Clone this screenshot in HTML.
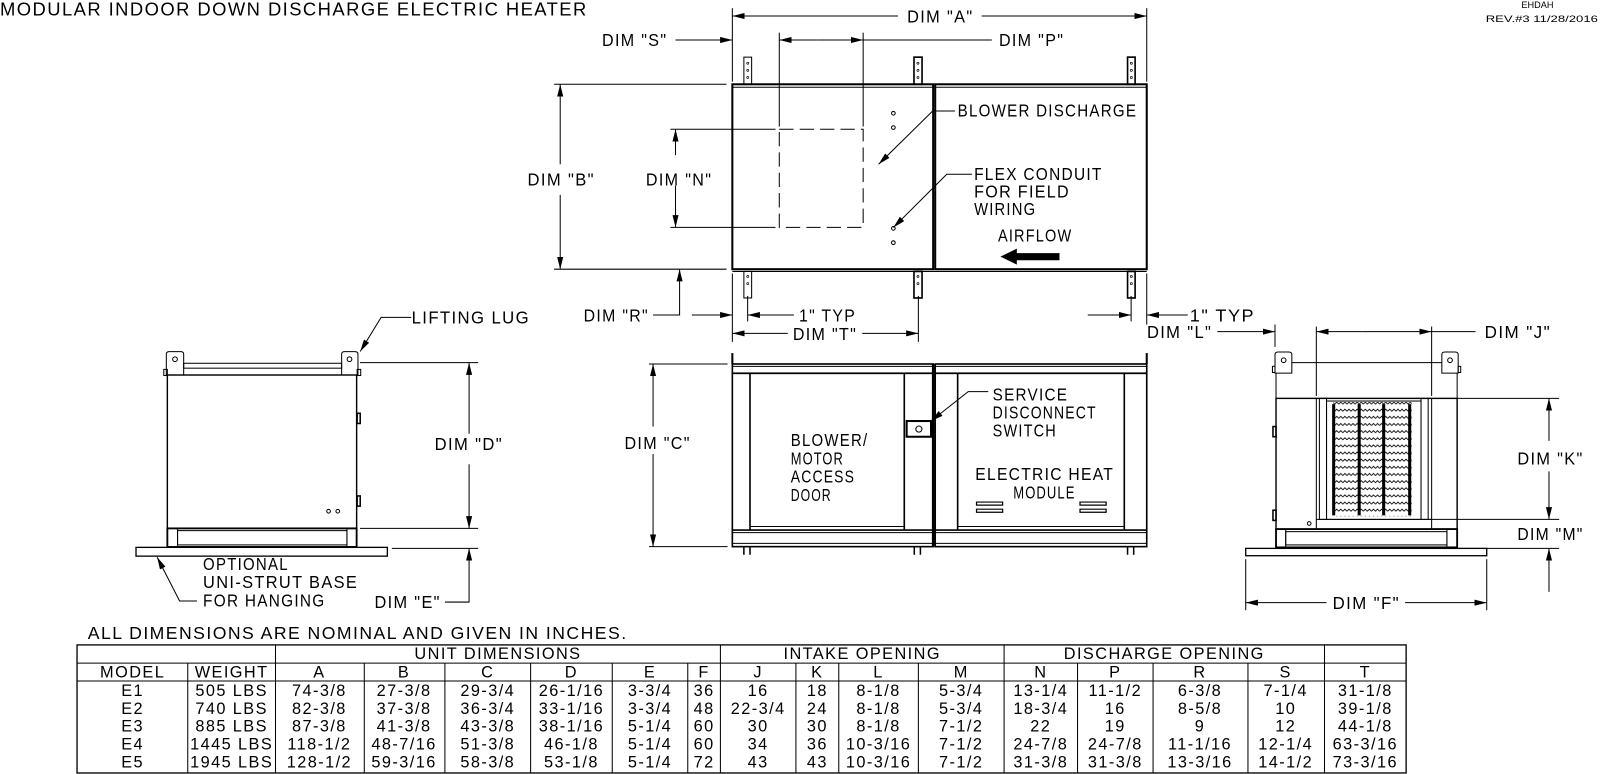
<!DOCTYPE html>
<html><head><meta charset="utf-8"><style>
html,body{margin:0;padding:0;background:#fff;}
svg{display:block;}
text{font-family:"Liberation Sans",sans-serif;fill:#000;}
.l{font-size:17px;letter-spacing:1.4px;}
.t{font-size:16px;letter-spacing:1.4px;text-anchor:middle;}
</style></head><body>
<svg width="1600" height="774" viewBox="0 0 1568 758.5" preserveAspectRatio="none" xmlns="http://www.w3.org/2000/svg">
<defs>
<marker id="a" viewBox="0 0 12 6" refX="12" refY="3" markerWidth="12" markerHeight="6" markerUnits="userSpaceOnUse" orient="auto-start-reverse"><path d="M0,0 L12,3 L0,6 z" fill="#000"/></marker>
<pattern id="zz" x="0" y="0" width="8" height="7" patternUnits="userSpaceOnUse"><path d="M0,4 L2,2 L4,4 L6,2 L8,4" fill="none" stroke="#000" stroke-width="0.8"/></pattern>
</defs>
<g fill="none" stroke="#000" stroke-width="1">

<!-- ===== TOP VIEW ===== -->
<rect x="717.7" y="82.6" width="196.8" height="181.2" stroke-width="2"/>
<rect x="916.5" y="82.6" width="207.3" height="181.2" stroke-width="2"/>
<line x1="717.7" y1="85.5" x2="1123.8" y2="85.5"/>
<line x1="717.7" y1="266" x2="1123.8" y2="266"/>
<!-- lugs -->
<rect x="729" y="56" width="7.6" height="26.6"/><rect x="895.7" y="56" width="7.9" height="26.6" stroke-width="1.6"/><rect x="1105" y="56" width="7.4" height="26.6" stroke-width="1.6"/>
<rect x="729" y="266" width="7.6" height="26"/><rect x="895.7" y="266" width="7.9" height="26" stroke-width="1.6"/><rect x="1105" y="266" width="7.4" height="26" stroke-width="1.6"/>
<g stroke-width="0.7"><circle cx="732.8" cy="62" r="1"/><circle cx="732.8" cy="69" r="1"/><circle cx="732.8" cy="76" r="1"/><circle cx="899.6" cy="62" r="1"/><circle cx="899.6" cy="69" r="1"/><circle cx="899.6" cy="76" r="1"/><circle cx="1108.7" cy="62" r="1"/><circle cx="1108.7" cy="69" r="1"/><circle cx="1108.7" cy="76" r="1"/>
<circle cx="732.8" cy="271" r="1"/><circle cx="732.8" cy="278" r="1"/><circle cx="899.6" cy="271" r="1"/><circle cx="899.6" cy="278" r="1"/><circle cx="1108.7" cy="271" r="1"/><circle cx="1108.7" cy="278" r="1"/></g>
<!-- dashed discharge -->
<rect x="763.7" y="126.7" width="82.2" height="96.1" stroke-dasharray="14,6"/>
<!-- holes -->
<circle cx="875.5" cy="111" r="1.8"/><circle cx="875.5" cy="125" r="1.8"/><circle cx="875.5" cy="223.8" r="1.8"/><circle cx="875.5" cy="237.8" r="1.8"/>
<!-- DIM A -->
<line x1="717.7" y1="8" x2="717.7" y2="80"/><line x1="1123.8" y1="8" x2="1123.8" y2="80"/>
<line x1="717.7" y1="15.7" x2="880" y2="15.7" marker-start="url(#a)"/><line x1="962" y1="15.7" x2="1123.8" y2="15.7" marker-end="url(#a)"/>
<!-- DIM P / S -->
<line x1="763.7" y1="32" x2="763.7" y2="124"/><line x1="845.9" y1="32" x2="845.9" y2="124"/>
<line x1="763.7" y1="39.2" x2="800" y2="39.2" marker-start="url(#a)"/><line x1="800" y1="39.2" x2="845.9" y2="39.2" marker-end="url(#a)"/><line x1="845.9" y1="39.2" x2="972" y2="39.2"/>
<line x1="662" y1="39.2" x2="717.7" y2="39.2" marker-end="url(#a)"/>
<!-- DIM B -->
<line x1="543" y1="82.6" x2="712" y2="82.6"/><line x1="543" y1="263.8" x2="712" y2="263.8"/>
<line x1="549" y1="82.6" x2="549" y2="161" marker-start="url(#a)"/><line x1="549" y1="191" x2="549" y2="263.8" marker-end="url(#a)"/>
<!-- DIM N -->
<line x1="657" y1="126.7" x2="760" y2="126.7"/><line x1="657" y1="222.8" x2="760" y2="222.8"/>
<line x1="662" y1="126.7" x2="662" y2="152" marker-start="url(#a)"/><line x1="662" y1="182" x2="662" y2="222.8" marker-end="url(#a)"/>
<!-- DIM R -->
<polyline points="640,308.7 666,308.7 666,263.8" marker-end="url(#a)"/>
<line x1="678" y1="308.7" x2="717.7" y2="308.7" marker-end="url(#a)"/>
<!-- 1" TYP left -->
<line x1="717.7" y1="268" x2="717.7" y2="335"/><line x1="732.7" y1="290" x2="732.7" y2="315"/><line x1="900" y1="290" x2="900" y2="335"/>
<line x1="732.7" y1="308.7" x2="778" y2="308.7" marker-start="url(#a)"/>
<line x1="717.7" y1="326.7" x2="772" y2="326.7" marker-start="url(#a)"/><line x1="845" y1="326.7" x2="900" y2="326.7" marker-end="url(#a)"/>
<!-- 1" TYP right / DIM L -->
<line x1="1108.5" y1="290" x2="1108.5" y2="315"/><line x1="1123.8" y1="268" x2="1123.8" y2="318"/>
<line x1="1066" y1="308.7" x2="1108.5" y2="308.7" marker-end="url(#a)"/>
<line x1="1123.8" y1="308.7" x2="1164" y2="308.7" marker-start="url(#a)"/>
<line x1="1193" y1="325" x2="1249.5" y2="325" marker-end="url(#a)"/><line x1="1249.5" y1="318" x2="1249.5" y2="340"/>
<!-- leaders top -->
<polyline points="936,108.8 914,108.8 861,161" marker-end="url(#a)"/>
<polyline points="952.5,170.8 927.8,170.8 875.5,223" marker-end="url(#a)"/>

<!-- ===== FRONT VIEW ===== -->
<line x1="717.7" y1="346" x2="717.7" y2="356.7" stroke-width="2"/><line x1="1123.8" y1="346" x2="1123.8" y2="356.7" stroke-width="2"/>
<rect x="717.7" y="356.7" width="196.8" height="9.1" stroke-width="1.6"/><rect x="916.5" y="356.7" width="207.3" height="9.1" stroke-width="1.6"/>
<line x1="717.7" y1="359" x2="1123.8" y2="359"/>
<rect x="717.7" y="365.8" width="196.8" height="169.9" stroke-width="1.6"/>
<rect x="916.5" y="365.8" width="207.3" height="169.9" stroke-width="1.6"/>
<line x1="914.5" y1="356.7" x2="914.5" y2="535.7" stroke-width="2.5"/>
<line x1="735" y1="365.8" x2="735" y2="519.4" stroke-width="1.6"/><line x1="886.2" y1="365.8" x2="886.2" y2="519.4" stroke-width="1.6"/>
<line x1="938.5" y1="365.8" x2="938.5" y2="519.4" stroke-width="1.6"/><line x1="1101.8" y1="365.8" x2="1101.8" y2="519.4" stroke-width="1.6"/>
<line x1="735" y1="516" x2="886.2" y2="516"/><line x1="938.5" y1="516" x2="1101.8" y2="516"/>
<line x1="717.7" y1="519.4" x2="1123.8" y2="519.4" stroke-width="1.6"/><line x1="717.7" y1="522" x2="1123.8" y2="522"/>
<line x1="717.7" y1="532.5" x2="1123.8" y2="532.5"/>
<path d="M729,535.7 v8 M735,535.7 v8 M896,535.7 v8 M902,535.7 v8 M1105,535.7 v8 M1111,535.7 v8" stroke-width="1.5"/>
<rect x="888.5" y="412.6" width="23.9" height="15.4" stroke-width="2"/><circle cx="900.5" cy="420.5" r="3"/>
<path d="M957,492 h25.6 v3 h-25.6 z M957,499 h25.6 v3 h-25.6 z M1058.4,492 h25.6 v3 h-25.6 z M1058.4,499 h25.6 v3 h-25.6 z" stroke-width="1.2"/>
<polyline points="968.5,383.8 948.9,383.8 912.4,412.6" marker-end="url(#a)"/>
<!-- DIM C -->
<line x1="636" y1="356.7" x2="713" y2="356.7"/><line x1="636" y1="535.7" x2="713" y2="535.7"/>
<line x1="640" y1="356.7" x2="640" y2="418" marker-start="url(#a)"/><line x1="640" y1="445" x2="640" y2="535.7" marker-end="url(#a)"/>

<!-- ===== LEFT VIEW ===== -->
<path d="M163,367.5 V347 q0,-2.4 3,-2.4 h11 q3,0 3,2.4 V367.5 z"/><circle cx="171.5" cy="352" r="2.3"/>
<path d="M334.8,367.5 V347 q0,-2.4 3,-2.4 h10 q3,0 3,2.4 V367.5 z"/><circle cx="342.5" cy="352" r="2.3"/>
<rect x="180" y="356" width="154.8" height="4.8"/>
<rect x="164" y="367.5" width="185.5" height="150.3" stroke-width="1.4"/>
<rect x="160.5" y="362" width="3.5" height="6"/><rect x="350" y="362" width="3.5" height="6"/>
<rect x="350" y="405" width="3" height="10" stroke-width="1.5"/><rect x="350" y="486" width="3" height="10" stroke-width="1.5"/>
<circle cx="322" cy="501" r="1.8"/><circle cx="331" cy="501" r="1.8"/>
<rect x="164" y="517.8" width="185.5" height="18.2" stroke-width="1.8"/>
<line x1="174" y1="517.8" x2="174" y2="536"/><line x1="340" y1="517.8" x2="340" y2="536"/>
<rect x="174" y="520" width="166" height="14"/>
<rect x="133.3" y="536.4" width="246.3" height="8.6" stroke-width="1.3"/>
<!-- DIM D/E -->
<line x1="352.8" y1="355.4" x2="468.6" y2="355.4"/><line x1="352.8" y1="517.8" x2="468.6" y2="517.8"/><line x1="384" y1="537.4" x2="468.6" y2="537.4"/>
<line x1="459.7" y1="355.4" x2="459.7" y2="425" marker-start="url(#a)"/><line x1="459.7" y1="455" x2="459.7" y2="517.8" marker-end="url(#a)"/>
<polyline points="436,590 459.7,590 459.7,537.4" marker-end="url(#a)"/>
<polyline points="403,311 373.5,311 353,344.5" marker-end="url(#a)"/>
<polyline points="193,589 176,589 154,546" marker-end="url(#a)"/>

<!-- ===== RIGHT VIEW ===== -->
<path d="M1249.5,365.7 V347.5 q0,-2.5 3,-2.5 h10.5 q3,0 3,2.5 V365.7 z"/><circle cx="1258" cy="353" r="2.3"/>
<path d="M1413,365.7 V347.5 q0,-2.5 3,-2.5 h10 q3,0 3,2.5 V365.7 z"/><circle cx="1421" cy="353" r="2.3"/>
<line x1="1266" y1="355.4" x2="1413" y2="355.4"/>
<rect x="1247" y="359" width="2.5" height="6"/><rect x="1429" y="359" width="2.5" height="6"/>
<line x1="1250.5" y1="365.7" x2="1250.5" y2="390.4"/><line x1="1428" y1="365.7" x2="1428" y2="390.4"/>
<rect x="1250.5" y="390.4" width="177.5" height="128.1" stroke-width="1.4"/>
<line x1="1290" y1="390.4" x2="1290" y2="518.5"/><line x1="1403" y1="390.4" x2="1403" y2="518.5"/>
<rect x="1293" y="390.4" width="7" height="118.6"/><rect x="1392.6" y="390.4" width="7" height="118.6"/>
<rect x="1300" y="393" width="92.6" height="116" />
<line x1="1290" y1="509" x2="1403" y2="509"/>
<rect x="1306.5" y="394" width="77" height="112" fill="url(#zz)" stroke="none"/>
<path d="M1307,396 v109 M1332,396 v109 M1356,396 v109 M1381.5,396 v109" stroke-width="3"/>
<rect x="1247.5" y="418" width="3" height="10" stroke-width="1.5"/><rect x="1247.5" y="500" width="3" height="10" stroke-width="1.5"/>
<circle cx="1283" cy="513" r="1.8"/>
<rect x="1250.5" y="518.5" width="177.5" height="17.9" stroke-width="1.8"/>
<line x1="1260" y1="518.5" x2="1260" y2="536.4"/><line x1="1418" y1="518.5" x2="1418" y2="536.4"/>
<rect x="1260" y="521" width="158" height="13"/>
<rect x="1220.8" y="537.4" width="236.2" height="7.2" stroke-width="1.3"/>
<!-- DIM J -->
<line x1="1290" y1="320" x2="1290" y2="388"/><line x1="1403" y1="320" x2="1403" y2="388"/>
<line x1="1290" y1="325" x2="1335" y2="325" marker-start="url(#a)"/><line x1="1335" y1="325" x2="1403" y2="325" marker-end="url(#a)"/><line x1="1403" y1="325" x2="1446" y2="325"/>
<!-- DIM K / M -->
<line x1="1428" y1="390.4" x2="1528" y2="390.4"/><line x1="1400" y1="509" x2="1528" y2="509"/><line x1="1457" y1="537.4" x2="1528" y2="537.4"/>
<line x1="1518" y1="390.4" x2="1518" y2="432" marker-start="url(#a)"/><line x1="1518" y1="462" x2="1518" y2="509" marker-end="url(#a)"/>
<line x1="1518" y1="537.4" x2="1518" y2="580" marker-start="url(#a)"/>
<!-- DIM F -->
<line x1="1220.8" y1="548" x2="1220.8" y2="598"/><line x1="1457" y1="548" x2="1457" y2="598"/>
<line x1="1220.8" y1="590.6" x2="1300" y2="590.6" marker-start="url(#a)"/><line x1="1377" y1="590.6" x2="1457" y2="590.6" marker-end="url(#a)"/>

<!-- airflow arrow -->
<path d="M981.6,251.5 L996,244.5 L996,248.5 L1037.8,248.5 L1037.8,254.5 L996,254.5 L996,258.5 z" fill="#000"/>

<!-- ===== TABLE ===== -->
<rect x="75.5" y="632" width="1302.5" height="125.5" stroke-width="1.3"/>
<line x1="75.5" y1="649.8" x2="1378" y2="649.8"/><line x1="75.5" y1="667.4" x2="1378" y2="667.4"/>
<path d="M270,632 V757.5 M706,632 V757.5 M984,632 V757.5 M1298,632 V757.5"/>
<path d="M184,649.8 V757.5 M357,649.8 V757.5 M436,649.8 V757.5 M520,649.8 V757.5 M600,649.8 V757.5 M674,649.8 V757.5 M780,649.8 V757.5 M822,649.8 V757.5 M900,649.8 V757.5 M1056,649.8 V757.5 M1130,649.8 V757.5 M1223,649.8 V757.5"/>
</g>

<!-- ===== TEXT ===== -->
<text x="0" y="15" class="l" textLength="576" lengthAdjust="spacingAndGlyphs" style="font-size:18px">MODULAR INDOOR DOWN DISCHARGE ELECTRIC HEATER</text>
<text x="1491" y="8" style="font-size:9px">EHDAH</text>
<text x="1456" y="21.5" style="font-size:9px" textLength="110" lengthAdjust="spacingAndGlyphs">REV.#3  11/28/2016</text>

<text x="889" y="22.2" class="l" textLength="65" lengthAdjust="spacingAndGlyphs">DIM "A"</text>
<text x="979" y="45" class="l" textLength="64" lengthAdjust="spacingAndGlyphs">DIM "P"</text>
<text x="590" y="45" class="l" textLength="64" lengthAdjust="spacingAndGlyphs">DIM "S"</text>
<text x="517" y="182" class="l" textLength="66" lengthAdjust="spacingAndGlyphs">DIM "B"</text>
<text x="633" y="182" class="l" textLength="65" lengthAdjust="spacingAndGlyphs">DIM "N"</text>
<text x="572" y="315" class="l" textLength="64" lengthAdjust="spacingAndGlyphs">DIM "R"</text>
<text x="783" y="315" class="l" textLength="56" lengthAdjust="spacingAndGlyphs">1" TYP</text>
<text x="777" y="333" class="l" textLength="63" lengthAdjust="spacingAndGlyphs">DIM "T"</text>
<text x="1166" y="315" class="l" textLength="64" lengthAdjust="spacingAndGlyphs">1" TYP</text>
<text x="1124" y="331" class="l" textLength="64" lengthAdjust="spacingAndGlyphs">DIM "L"</text>
<text x="1455" y="331" class="l" textLength="65" lengthAdjust="spacingAndGlyphs">DIM "J"</text>
<text x="938.5" y="114.3" class="l" textLength="176" lengthAdjust="spacingAndGlyphs">BLOWER DISCHARGE</text>
<text x="954.6" y="176.4" class="l" textLength="126" lengthAdjust="spacingAndGlyphs">FLEX CONDUIT</text>
<text x="954.6" y="193.4" class="l" textLength="94" lengthAdjust="spacingAndGlyphs">FOR FIELD</text>
<text x="954.6" y="210.7" class="l" textLength="61" lengthAdjust="spacingAndGlyphs">WIRING</text>
<text x="978" y="236.8" class="l" textLength="73" lengthAdjust="spacingAndGlyphs">AIRFLOW</text>

<text x="775" y="437" class="l" textLength="76" lengthAdjust="spacingAndGlyphs">BLOWER/</text>
<text x="775" y="455" class="l" textLength="52" lengthAdjust="spacingAndGlyphs">MOTOR</text>
<text x="775" y="473" class="l" textLength="63" lengthAdjust="spacingAndGlyphs">ACCESS</text>
<text x="775" y="491" class="l" textLength="40" lengthAdjust="spacingAndGlyphs">DOOR</text>
<text x="972.8" y="392.6" class="l" textLength="74" lengthAdjust="spacingAndGlyphs">SERVICE</text>
<text x="972.8" y="410" class="l" textLength="102" lengthAdjust="spacingAndGlyphs">DISCONNECT</text>
<text x="972.8" y="428" class="l" textLength="63" lengthAdjust="spacingAndGlyphs">SWITCH</text>
<text x="955.8" y="470.4" class="l" textLength="136" lengthAdjust="spacingAndGlyphs">ELECTRIC HEAT</text>
<text x="993" y="488.4" class="l" textLength="61" lengthAdjust="spacingAndGlyphs">MODULE</text>
<text x="612" y="440" class="l" textLength="65" lengthAdjust="spacingAndGlyphs">DIM "C"</text>

<text x="403.4" y="316.9" class="l" textLength="116" lengthAdjust="spacingAndGlyphs">LIFTING LUG</text>
<text x="426" y="441" class="l" textLength="67" lengthAdjust="spacingAndGlyphs">DIM "D"</text>
<text x="367" y="596" class="l" textLength="65" lengthAdjust="spacingAndGlyphs">DIM "E"</text>
<text x="199" y="558.6" class="l" textLength="84" lengthAdjust="spacingAndGlyphs">OPTIONAL</text>
<text x="199" y="576" class="l" textLength="152" lengthAdjust="spacingAndGlyphs">UNI-STRUT BASE</text>
<text x="199" y="594.5" class="l" textLength="120" lengthAdjust="spacingAndGlyphs">FOR HANGING</text>

<text x="1487" y="455" class="l" textLength="65" lengthAdjust="spacingAndGlyphs">DIM "K"</text>
<text x="1487" y="529" class="l" textLength="65" lengthAdjust="spacingAndGlyphs">DIM "M"</text>
<text x="1306" y="597" class="l" textLength="66" lengthAdjust="spacingAndGlyphs">DIM "F"</text>

<text x="86" y="626" class="l" textLength="529" lengthAdjust="spacingAndGlyphs">ALL DIMENSIONS ARE NOMINAL AND GIVEN IN INCHES.</text>

<text x="488" y="646" class="t">UNIT DIMENSIONS</text>
<text x="845" y="646" class="t">INTAKE OPENING</text>
<text x="1141" y="646" class="t">DISCHARGE OPENING</text>
<text x="130" y="664" class="t">MODEL</text><text x="227" y="664" class="t">WEIGHT</text>
<text x="313" y="664" class="t">A</text><text x="396" y="664" class="t">B</text><text x="478" y="664" class="t">C</text><text x="560" y="664" class="t">D</text><text x="637" y="664" class="t">E</text><text x="690" y="664" class="t">F</text>
<text x="743" y="664" class="t">J</text><text x="801" y="664" class="t">K</text><text x="861" y="664" class="t">L</text><text x="942" y="664" class="t">M</text>
<text x="1020" y="664" class="t">N</text><text x="1093" y="664" class="t">P</text><text x="1176" y="664" class="t">R</text><text x="1260" y="664" class="t">S</text><text x="1338" y="664" class="t">T</text>
<text x="130" y="682" class="t">E1</text><text x="227" y="682" class="t">505 LBS</text><text x="313" y="682" class="t">74-3/8</text><text x="396" y="682" class="t">27-3/8</text><text x="478" y="682" class="t">29-3/4</text><text x="560" y="682" class="t">26-1/16</text><text x="637" y="682" class="t">3-3/4</text><text x="690" y="682" class="t">36</text><text x="743" y="682" class="t">16</text><text x="801" y="682" class="t">18</text><text x="861" y="682" class="t">8-1/8</text><text x="942" y="682" class="t">5-3/4</text><text x="1020" y="682" class="t">13-1/4</text><text x="1093" y="682" class="t">11-1/2</text><text x="1176" y="682" class="t">6-3/8</text><text x="1260" y="682" class="t">7-1/4</text><text x="1338" y="682" class="t">31-1/8</text>
<text x="130" y="699.5" class="t">E2</text><text x="227" y="699.5" class="t">740 LBS</text><text x="313" y="699.5" class="t">82-3/8</text><text x="396" y="699.5" class="t">37-3/8</text><text x="478" y="699.5" class="t">36-3/4</text><text x="560" y="699.5" class="t">33-1/16</text><text x="637" y="699.5" class="t">3-3/4</text><text x="690" y="699.5" class="t">48</text><text x="743" y="699.5" class="t">22-3/4</text><text x="801" y="699.5" class="t">24</text><text x="861" y="699.5" class="t">8-1/8</text><text x="942" y="699.5" class="t">5-3/4</text><text x="1020" y="699.5" class="t">18-3/4</text><text x="1093" y="699.5" class="t">16</text><text x="1176" y="699.5" class="t">8-5/8</text><text x="1260" y="699.5" class="t">10</text><text x="1338" y="699.5" class="t">39-1/8</text>
<text x="130" y="717" class="t">E3</text><text x="227" y="717" class="t">885 LBS</text><text x="313" y="717" class="t">87-3/8</text><text x="396" y="717" class="t">41-3/8</text><text x="478" y="717" class="t">43-3/8</text><text x="560" y="717" class="t">38-1/16</text><text x="637" y="717" class="t">5-1/4</text><text x="690" y="717" class="t">60</text><text x="743" y="717" class="t">30</text><text x="801" y="717" class="t">30</text><text x="861" y="717" class="t">8-1/8</text><text x="942" y="717" class="t">7-1/2</text><text x="1020" y="717" class="t">22</text><text x="1093" y="717" class="t">19</text><text x="1176" y="717" class="t">9</text><text x="1260" y="717" class="t">12</text><text x="1338" y="717" class="t">44-1/8</text>
<text x="130" y="734.5" class="t">E4</text><text x="227" y="734.5" class="t">1445 LBS</text><text x="313" y="734.5" class="t">118-1/2</text><text x="396" y="734.5" class="t">48-7/16</text><text x="478" y="734.5" class="t">51-3/8</text><text x="560" y="734.5" class="t">46-1/8</text><text x="637" y="734.5" class="t">5-1/4</text><text x="690" y="734.5" class="t">60</text><text x="743" y="734.5" class="t">34</text><text x="801" y="734.5" class="t">36</text><text x="861" y="734.5" class="t">10-3/16</text><text x="942" y="734.5" class="t">7-1/2</text><text x="1020" y="734.5" class="t">24-7/8</text><text x="1093" y="734.5" class="t">24-7/8</text><text x="1176" y="734.5" class="t">11-1/16</text><text x="1260" y="734.5" class="t">12-1/4</text><text x="1338" y="734.5" class="t">63-3/16</text>
<text x="130" y="752" class="t">E5</text><text x="227" y="752" class="t">1945 LBS</text><text x="313" y="752" class="t">128-1/2</text><text x="396" y="752" class="t">59-3/16</text><text x="478" y="752" class="t">58-3/8</text><text x="560" y="752" class="t">53-1/8</text><text x="637" y="752" class="t">5-1/4</text><text x="690" y="752" class="t">72</text><text x="743" y="752" class="t">43</text><text x="801" y="752" class="t">43</text><text x="861" y="752" class="t">10-3/16</text><text x="942" y="752" class="t">7-1/2</text><text x="1020" y="752" class="t">31-3/8</text><text x="1093" y="752" class="t">31-3/8</text><text x="1176" y="752" class="t">13-3/16</text><text x="1260" y="752" class="t">14-1/2</text><text x="1338" y="752" class="t">73-3/16</text>
</svg>
</body></html>
